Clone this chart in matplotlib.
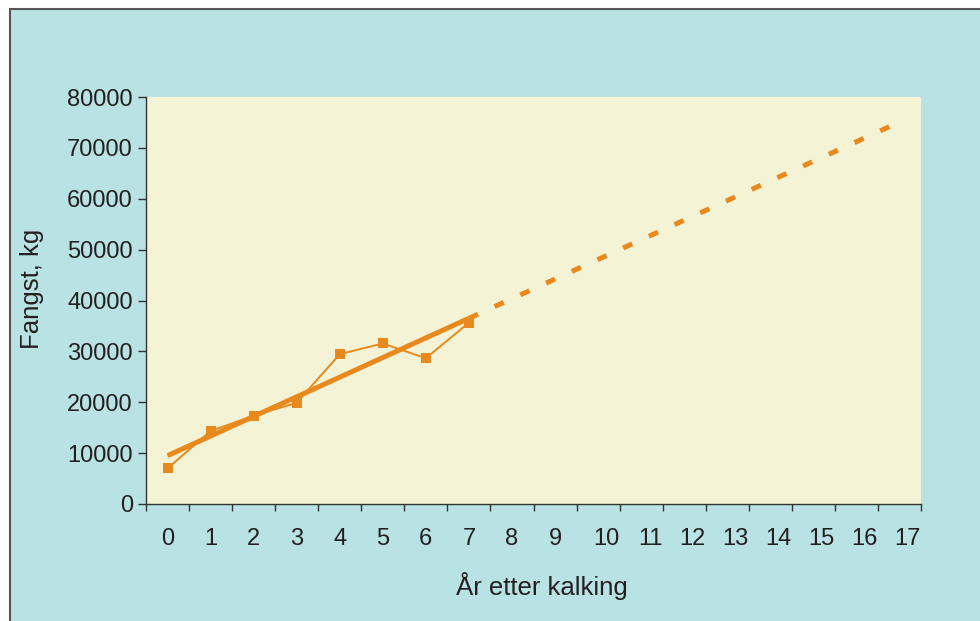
import matplotlib
matplotlib.use("Agg")
import matplotlib.pyplot as plt
import matplotlib.transforms as mtransforms
from matplotlib.patches import Rectangle
import numpy as np

# data
years = [0, 1, 2, 3, 4, 5, 6, 7]
catch_kg = [7000, 14350, 17350, 19900, 29450, 31550, 28650, 35650]

# trend line: solid over the observed years, dotted extrapolation
trend_x = [0, 7]
trend_y = [9500, 36500]
extrap_x = [7, 16.8]
extrap_y = [36500, 74300]

x_labels = [str(i) for i in range(18)]
y_ticks = [0, 10000, 20000, 30000, 40000, 50000, 60000, 70000, 80000]

orange = "#e8891e"
txt = "#231f20"
plt.rcParams["font.family"] = ["Liberation Sans", "DejaVu Sans"]

fig = plt.figure(figsize=(9.8, 6.21), dpi=100)
fig.patch.set_facecolor("white")
# framed cyan panel (only top and left edges visible)
fig.patches.append(Rectangle((10 / 980, -0.05), 1.2, 1 - 9 / 621 + 0.05,
                             transform=fig.transFigure, facecolor="#b9e2e4",
                             edgecolor="#555555", linewidth=1.5, zorder=-5))

ax = fig.add_axes([146 / 980, 1 - 504 / 621, (921 - 146) / 980, (504 - 97) / 621])
ax.set_facecolor("#f5f3d6")

ax.plot(trend_x, trend_y, color=orange, linewidth=3.6, solid_capstyle="butt", zorder=2)
ax.plot(extrap_x, extrap_y, color=orange, linewidth=3.6, dashes=(2, 3.65),
        dash_capstyle="butt", zorder=2)
ax.plot(years, catch_kg, color=orange, linewidth=1.4, marker="s", markersize=7.8,
        markeredgewidth=0, zorder=3)

ax.set_xlim(-0.5, 17.5)
ax.set_ylim(0, 80000)

for s in ["top", "right"]:
    ax.spines[s].set_visible(False)
for s in ["left", "bottom"]:
    ax.spines[s].set_color("#333333")
    ax.spines[s].set_linewidth(1.0)

ax.set_yticks(y_ticks)
ax.set_yticklabels([str(v) for v in y_ticks])
ax.tick_params(axis="y", direction="out", length=5.5, width=1, color="#333333",
               labelsize=17, labelcolor=txt, pad=4)

ax.set_xticks(np.arange(-0.5, 18, 1))
ax.set_xticklabels([])
ax.tick_params(axis="x", direction="out", length=5, width=1, color="#333333")

# category labels: single digits centred, two digits flush with the right tick
trans = mtransforms.blended_transform_factory(ax.transData, ax.transAxes)
for i, lab in enumerate(x_labels):
    if len(lab) == 1:
        ax.text(i, -0.086, lab, transform=trans, ha="center", va="center",
                fontsize=17, color=txt)
    else:
        ax.text(i + 0.5, -0.086, lab, transform=trans, ha="right", va="center",
                fontsize=17, color=txt)

fig.text(542 / 980, 1 - 586 / 621, "År etter kalking", ha="center", va="center",
         fontsize=18.5, color=txt)
fig.text(32 / 980, 1 - 289 / 621, "Fangst, kg", ha="center", va="center",
         rotation=90, fontsize=18.5, color=txt)

fig.savefig("out.png", dpi=100, facecolor=fig.get_facecolor())
